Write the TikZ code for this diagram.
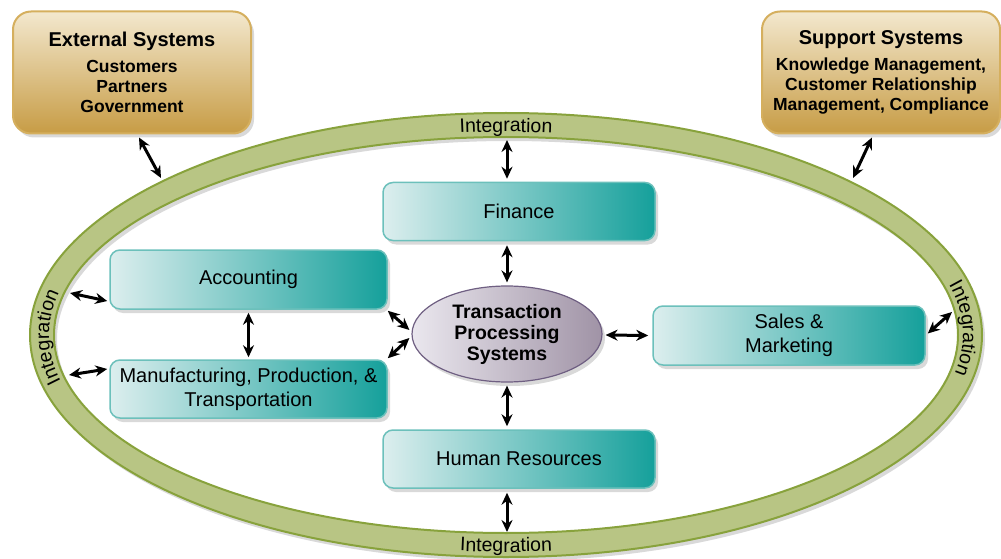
\documentclass[tikz,border=0pt]{standalone}
\usepackage{fontspec}
\setmainfont{Liberation Sans}
\usetikzlibrary{arrows.meta,shadows,decorations.text,shapes.geometric}
\definecolor{tealL}{HTML}{DCEEEE}
\definecolor{tealR}{HTML}{15A09B}
\definecolor{tealB}{HTML}{6CC0BB}
\definecolor{goldT}{HTML}{F3E8CE}
\definecolor{goldB}{HTML}{C79C45}
\definecolor{goldD}{HTML}{D5AF5E}
\definecolor{ringF}{HTML}{B8C584}
\definecolor{ringD}{HTML}{88A23C}
\definecolor{tpsL}{HTML}{EAE7EE}
\definecolor{tpsR}{HTML}{A093A6}
\definecolor{tpsD}{HTML}{6F5F82}
\begin{document}
\begin{tikzpicture}[x=1pt,y=1pt,
  unitbox/.style={draw=tealB, line width=1.5pt, left color=tealL, right color=tealR,
    rounded corners=10pt, minimum width=272pt, minimum height=58pt, align=center,
    font=\fontsize{20}{24}\selectfont, inner sep=0pt,
    drop shadow={shadow xshift=3pt, shadow yshift=-4pt, opacity=0.3}},
  goldbox/.style={draw=goldD, line width=2pt, top color=goldT, bottom color=goldB,
    rounded corners=18pt, minimum width=238pt, minimum height=122pt, align=center,
    font=\fontsize{17.5}{20}\selectfont\bfseries, inner sep=0pt,
    drop shadow={shadow xshift=3pt, shadow yshift=-4pt, opacity=0.3}},
  tpsbox/.style={ellipse, draw=tpsD, line width=1.2pt, left color=tpsL, right color=tpsR,
    minimum width=190pt, minimum height=96pt, align=center, inner sep=0pt,
    font=\fontsize{19.5}{21}\selectfont\bfseries,
    drop shadow={shadow xshift=3pt, shadow yshift=-4pt, opacity=0.3}},
  biarrow/.style={line width=3pt, {Stealth[length=12pt,width=11pt]}-{Stealth[length=12pt,width=11pt]}},
  ringtext/.style={decorate, decoration={text along path, text align=center,
    text={|\fontsize{19.5}{20}\selectfont|Integration}}}
]
\useasboundingbox (0,0) rectangle (1001,558);

% ring shadow
\fill[black, opacity=0.15, even odd rule] (509,219) ellipse[x radius=476, y radius=222]
  (509,219) ellipse[x radius=452, y radius=198];
% ring
\path[fill=ringF, draw=ringD, line width=2pt, even odd rule]
  (506,223) ellipse[x radius=476, y radius=222]
  (506,223) ellipse[x radius=452, y radius=198];

% ring texts
\path[ringtext] ([shift={(100:464pt and 203pt)}]506,223) arc[start angle=100, end angle=80, x radius=464pt, y radius=203pt];
\path[ringtext] ([shift={(260:471pt and 217pt)}]506,223) arc[start angle=260, end angle=280, x radius=471pt, y radius=217pt];
\path[ringtext] ([shift={(200.5:457pt and 203pt)}]506,223) arc[start angle=200.5, end angle=160.5, x radius=457pt, y radius=203pt];
\path[ringtext] ([shift={(21.5:457pt and 203pt)}]506,223) arc[start angle=21.5, end angle=-18.5, x radius=457pt, y radius=203pt];

% ring anchor points
\coordinate (rExt) at (161,380);
\coordinate (rSup) at (853,380);
\coordinate (rTop) at (507,418);
\coordinate (rBot) at (507,26);
\coordinate (rAcc) at (70,265);
\coordinate (rMan) at (69,183);
\coordinate (rSal) at (952,246);

% nodes
\node[goldbox] (ext) at (132,485.5) {{\fontsize{20}{22}\selectfont External Systems}\\[6pt]
  Customers\\ Partners\\ Government};
\node[goldbox] (sup) at (881,485.5) {{\fontsize{20}{22}\selectfont Support Systems}\\[6pt]
  Knowledge Management,\\ Customer Relationship\\ Management, Compliance};
\node[unitbox] (fin) at (519,346.5) {Finance};
\node[unitbox, minimum width=277pt, minimum height=59pt] (acc) at (248.5,278.5) {Accounting};
\node[unitbox, minimum width=277pt] (man) at (248.5,169) {Manufacturing, Production, \&\\ Transportation};
\node[unitbox] (hr) at (519,99) {Human Resources};
\node[unitbox, minimum height=59pt] (sal) at (789,222.5) {Sales \&\\ Marketing};
\node[tpsbox] (tps) at (507,224) {Transaction\\ Processing\\ Systems};

% connectors
\draw[biarrow] ([shift={(7,-3)}]ext.south) -- (rExt);
\draw[biarrow] ([shift={(-9,-3)}]sup.south) -- (rSup);
\draw[biarrow] (rTop) -- ([shift={(-12,3)}]fin.north);
\draw[biarrow] ([shift={(-12,-4)}]fin.south) -- ([shift={(0,3)}]tps.north);
\draw[biarrow] ([shift={(0,-3)}]tps.south) -- ([shift={(-12,3)}]hr.north);
\draw[biarrow] ([shift={(-12,-4)}]hr.south) -- (rBot);
\draw[biarrow] (rAcc) -- ([shift={(-2,-21.5)}]acc.west);
\draw[biarrow] (rMan) -- ([shift={(-2,20)}]man.west);
\draw[biarrow] ([shift={(0,-3)}]acc.south) -- ([shift={(0,2)}]man.north);
\draw[biarrow] ([shift={(0,-1)}]acc.south east) -- ([shift={(-2,4)}]tps.west);
\draw[biarrow] ([shift={(0,1)}]man.north east) -- ([shift={(-2,-4)}]tps.west);
\draw[biarrow] ([shift={(3,-1)}]tps.east) -- ([shift={(-4,0)}]sal.west);
\draw[biarrow] ([shift={(2,2)}]sal.east) -- (rSal);
\end{tikzpicture}
\end{document}
